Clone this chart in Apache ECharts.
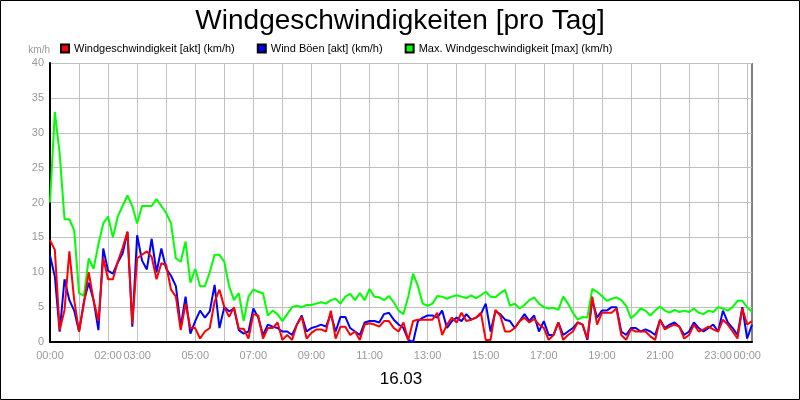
<!DOCTYPE html>
<html><head><meta charset="utf-8">
<script src="https://cdn.jsdelivr.net/npm/echarts@6/dist/echarts.min.js"></script>
<style>html,body{margin:0;padding:0;background:#fff}#c{width:800px;height:400px}</style>
</head><body><div id="c"></div>
<script>
const seriesNames = ['Windgeschwindigkeit [akt] (km/h)', 'Wind Böen [akt] (km/h)', 'Max. Windgeschwindigkeit [max] (km/h)'];
const shownLabels = ['00:00','02:00','03:00','05:00','07:00','09:00','11:00','13:00','15:00','17:00','19:00','21:00','23:00'];
const red = [14.6,13.2,1.7,4.6,13,6,1.5,5.5,10,6,3,12,9,9,11.5,13.5,15.8,2.6,12,12.5,13,12.2,9,11.3,11,7.5,6.5,1.7,5.5,2,2,0.5,1.5,2,5.8,7.5,5,3.6,5,1.9,1.9,
0.5,4,3.8,0.5,2,2,2.8,0.3,1,0.3,2.5,3.6,0.5,1.3,1.8,1.8,1.5,4.5,0.5,2.2,2.2,1,1.5,0.3,2.5,2.7,2.5,2.2,3,3,2,1.5,2.8,0.3,3,3.2,3.2,3.2,3.2,4.2,1,2.5,3.5,2.8,4.2,3,3.2,3.5,4.2,0.3,0.3,
4.6,3.8,1.5,1.5,2,3,3.5,2.8,3.3,2.5,2,0.3,1,2.8,0.3,1,1.5,2.8,2.5,0.5,6.5,2.5,4.2,4.2,4.2,4.8,1,0.3,1.8,1.5,1.5,1.5,0.8,0.3,3.2,1.8,2.2,2.5,2.2,0.5,1,2.5,1.5,1.8,2.2,1.8,1.5,3.2,2.5,1.5,0.5,4.8,2.5,3];
const blue = [12.4,9.4,1.5,9,6,4.5,1.5,5.8,8.5,6,1.7,13.4,10.2,9.8,11.4,12.7,15.8,2.2,15.3,11.7,10.4,14.8,10,13.4,10.5,9.5,8,2.2,6.5,1.2,3,4.5,3.5,4.4,8.2,2,5,4.4,4.8,1.7,1.2,
1.5,4.8,3.5,1,2.5,2.2,2,1.5,1.5,1,2.5,3.8,1.5,2,2.2,2.5,2.2,4,1.5,3.6,3.6,2,1.5,1,2.8,3,3,2.8,4,4.2,3.2,2.5,2,0.3,0,3,3.5,3.8,3.8,3.5,4.5,2,3,3.5,3,4,3.2,3.5,4,5.5,1.5,
4.4,4,3.2,3,2,3,4,3,3.8,1.5,3,1,1,2.8,1,1.5,2,2.8,2.5,0.3,6,3.5,4.5,4.5,5,5,1.5,1,2,2,1.5,1.8,1.5,1,3.2,2,2.5,2.8,2.2,1,1.5,2.8,2,1.5,2,2.5,1.5,4.5,2.8,2,1,5,0.5,2.5];
const green = [20,33,27,17.6,17.6,16,7,6.6,12,10.5,14,17,18,15,18,19.5,21,19.5,17,19.5,19.5,19.5,20.5,19.5,18.5,17,12,11.5,14.4,8.5,10.5,8,8,10,12.5,12.5,11.5,8,6,7,3,
6.5,7.5,7.2,7,3.8,4.5,4,3,4,5,5.2,5,5.3,5.3,5.5,5.7,5.5,6,6.2,5.5,6.5,6.9,6,7,6,7.6,6.5,6.4,6,6.6,5.7,4.5,4,6.5,9.8,8,5.5,5.2,5.5,6.6,6.5,6.2,6.5,6.7,6.5,6.3,6.7,6.3,6.7,7.2,6.5,
6.4,7,7.5,5.2,5.5,4.8,5.3,6,6.4,5.5,5,4.8,4.9,4.6,6.5,5.5,4.2,3.2,3.6,3.5,7.6,7.2,6.6,5.9,6.2,6.4,6,5.2,3.4,4,4.8,4.5,3.8,4.5,5.1,4.5,4.2,4.6,4.3,4.5,4.3,4.8,4.2,4,4.5,4.3,5,4.8,4.5,5,5.9,5.9,5,4.3];
const times = red.map((_, i) => { const m = i * 10; return String(Math.floor(m / 60) % 24).padStart(2, '0') + ':' + String(m % 60).padStart(2, '0'); });
const chart = echarts.init(document.getElementById('c'));
const mk = (name, data, color) => ({ name, type: 'line', data, showSymbol: false, symbol: 'none', lineStyle: { color, width: 2 }, itemStyle: { color, borderColor: '#000', borderWidth: 1 } });
chart.setOption({
  animation: false,
  title: { text: 'Windgeschwindigkeiten [pro Tag]', left: 'center', top: 2, textStyle: { fontFamily: 'Liberation Sans', fontSize: 28, fontWeight: 'normal', color: '#000' } },
  legend: { top: 38, left: 55, itemWidth: 8, itemHeight: 8, itemGap: 22, icon: 'rect', textStyle: { fontFamily: 'Liberation Sans', fontSize: 11, color: '#000' }, data: seriesNames },
  grid: { left: 50, right: 48, top: 63, bottom: 58 },
  xAxis: {
    type: 'category', data: times, boundaryGap: false,
    name: '16.03', nameLocation: 'middle', nameGap: 29, nameTextStyle: { fontFamily: 'Liberation Sans', fontSize: 17, color: '#000' },
    axisLine: { lineStyle: { color: '#000', width: 2 } }, axisTick: { show: false },
    axisLabel: { color: '#999', fontFamily: 'Liberation Sans', fontSize: 11, interval: 0, formatter: (v) => shownLabels.includes(v) && v !== '01:00' ? v : '' },
    splitLine: { show: true, interval: (i) => i % 6 === 0, lineStyle: { color: '#c0c0c0' } }
  },
  yAxis: {
    type: 'value', min: 0, max: 40, interval: 5,
    name: 'km/h', nameLocation: 'end', nameGap: 8, nameTextStyle: { color: '#999', fontSize: 10, fontFamily: 'Liberation Sans', align: 'right', padding: [0, 0, 0, 0] },
    axisLine: { show: true, lineStyle: { color: '#000', width: 2 } }, axisTick: { show: false },
    axisLabel: { color: '#999', fontFamily: 'Liberation Sans', fontSize: 11, margin: 6 },
    splitLine: { lineStyle: { color: '#c0c0c0' } }
  },
  graphic: [
    { type: 'rect', shape: { x: 0.5, y: 0.5, width: 799, height: 399 }, style: { fill: 'none', stroke: '#000', lineWidth: 1 } },
    { type: 'line', shape: { x1: 752, y1: 63, x2: 752, y2: 342 }, style: { stroke: '#000', lineWidth: 1 } }
  ],
  series: [mk(seriesNames[0], red, '#ff0000'), mk(seriesNames[1], blue, '#0000ff'), mk(seriesNames[2], green, '#00ff00')].reverse()
});
</script></body></html>
